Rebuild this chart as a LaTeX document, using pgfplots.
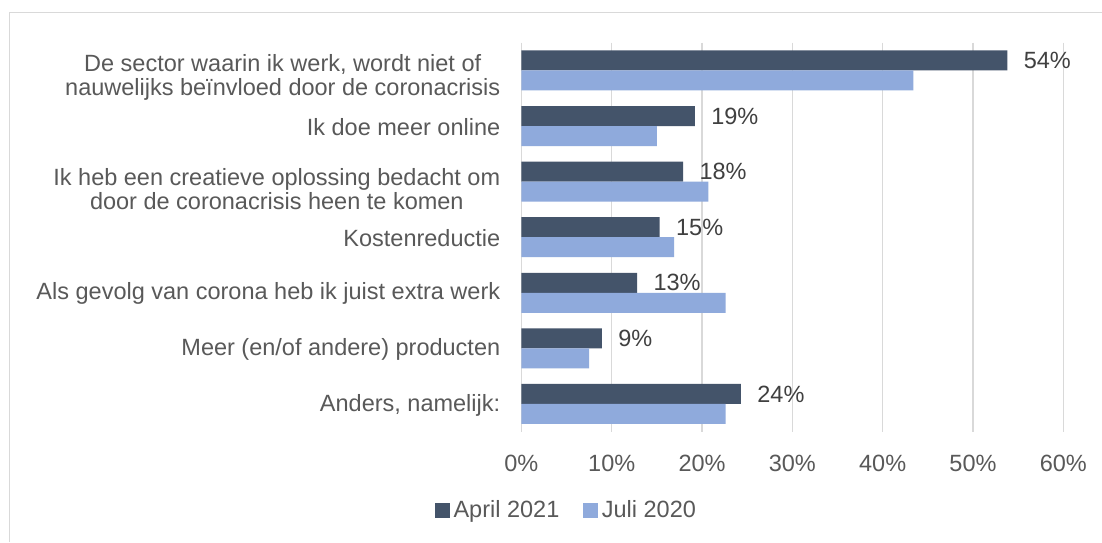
\documentclass[border=0pt]{standalone}
\usepackage{fontspec}
\setmainfont{Liberation Sans}
\usepackage{pgfplots}
\pgfplotsset{compat=1.18}
\definecolor{aprilc}{HTML}{44546A}
\definecolor{julic}{HTML}{8FAADC}
\definecolor{gridc}{HTML}{D9D9D9}
\definecolor{txt}{HTML}{595959}
\definecolor{lbl}{HTML}{404040}
\newcommand\chartfont{\fontsize{23.5}{24}\selectfont}
\begin{document}
\begin{tikzpicture}
\useasboundingbox (0,0) rectangle (1102pt,542pt);
\fill[white] (0,0) rectangle (1102pt,542pt);
\draw[gridc, line width=1.3pt] (9.5pt,0) -- (9.5pt,529.5pt) -- (1102pt,529.5pt);
\begin{axis}[
  at={(521.4pt,110.3pt)}, anchor=south west,
  scale only axis, width=541.9pt, height=389pt,
  /pgf/number format/assume math mode=true,
  xbar=0pt, bar width=20pt,
  xmin=0, xmax=60, ymin=-0.5, ymax=6.5, y dir=reverse,
  xtick={0,10,...,60},
  xticklabels={0\%,10\%,20\%,30\%,40\%,50\%,60\%},
  ytick={0,...,6},
  yticklabels={
    {\rule{0pt}{29pt}De sector waarin ik werk, wordt niet of\\nauwelijks beïnvloed door de coronacrisis},
    {Ik doe meer online},
    {\rule{0pt}{29pt}Ik heb een creatieve oplossing bedacht om\\door de coronacrisis heen te komen},
    {Kostenreductie},
    {Als gevolg van corona heb ik juist extra werk},
    {Meer (en/of andere) producten},
    {Anders, namelijk:}},
  major tick length=0pt,
  xmajorgrids, grid style={gridc, line width=1.3pt},
  axis line style={draw=none},
  xticklabel style={font=\chartfont, text=txt, anchor=base, yshift=-39.5pt, inner sep=0pt},
  yticklabel style={font=\chartfont, text=txt, align=center, anchor=east, xshift=-21pt, yshift=-1pt, inner sep=0pt},
  legend style={at={(0.0832,-0.2)}, anchor=center, draw=none, fill=none,
    legend columns=2, font=\chartfont, text=txt,
    /tikz/every odd column/.append style={column sep=2pt},
    /tikz/every even column/.append style={column sep=22pt}},
  legend image code/.code={\fill[#1] (0pt,-8.3pt) rectangle (14.5pt,6.2pt);},
]
\addplot[fill=aprilc, draw=none, bar shift=10pt, point meta=x,
  nodes near coords={\pgfmathprintnumber[fixed,precision=0]{\pgfplotspointmeta}\%},
  every node near coord/.append style={font=\chartfont, text=lbl, anchor=west, xshift=13pt}]
  coordinates {(53.8,0) (19.2,1) (17.9,2) (15.3,3) (12.8,4) (8.9,5) (24.3,6)};
\addplot[fill=julic, draw=none, bar shift=-10pt]
  coordinates {(43.4,0) (15.0,1) (20.7,2) (16.9,3) (22.6,4) (7.5,5) (22.6,6)};
\legend{April 2021, Juli 2020}
\end{axis}
\end{tikzpicture}
\end{document}
